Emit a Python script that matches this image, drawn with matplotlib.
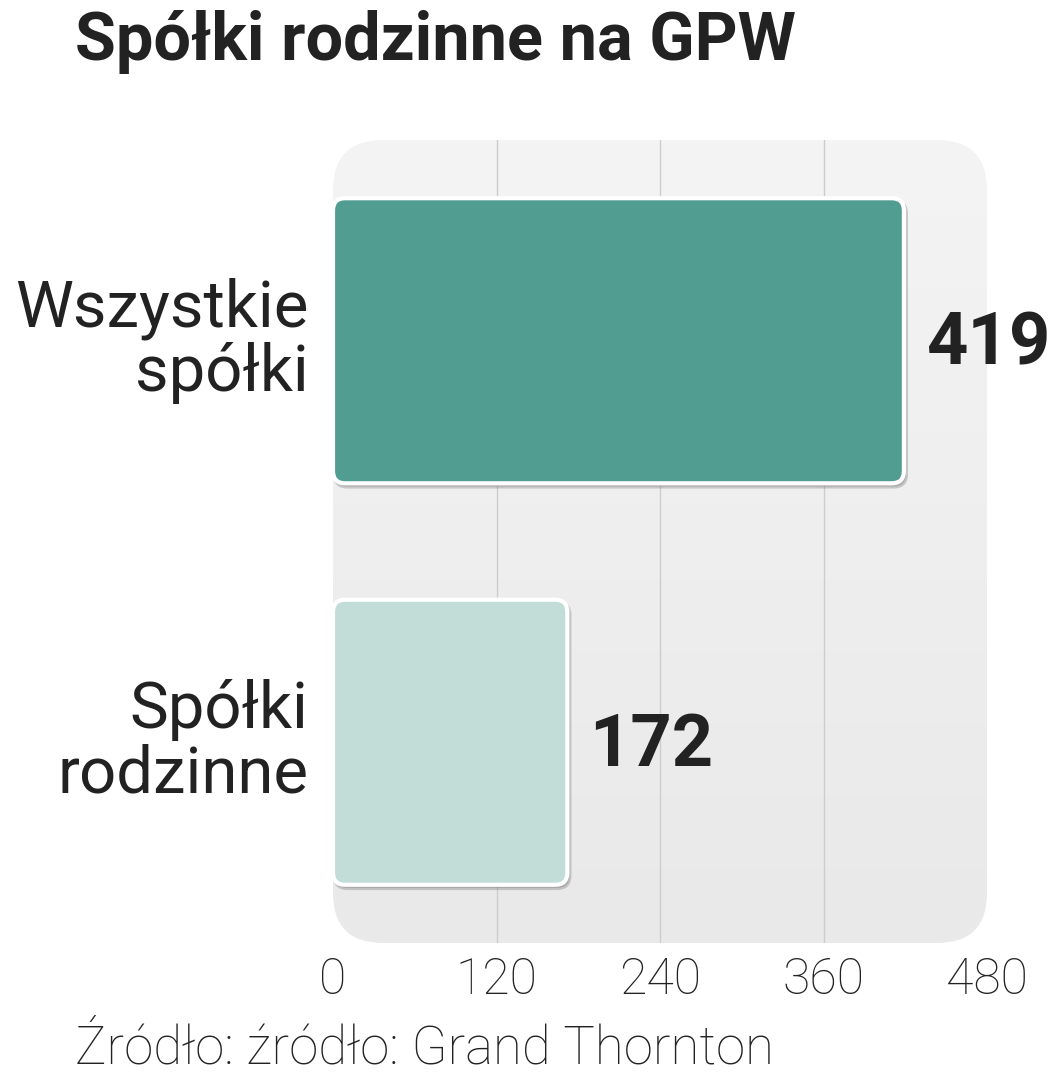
import numpy as np
import matplotlib.pyplot as plt
from matplotlib.patches import FancyBboxPatch
from matplotlib.colors import LinearSegmentedColormap

# dane
categories = ["Wszystkie\nspółki", "Spółki\nrodzinne"]
values = [419, 172]
bar_colors = ["#519d92", "#c2dcd8"]
xticks = [0, 120, 240, 360, 480]

title = "Spółki rodzinne na GPW"
source = "Źródło: źródło: Grand Thornton"

W, H = 1055, 1080
fig = plt.figure(figsize=(W / 100, H / 100), dpi=100)
ax = fig.add_axes([333 / W, 1 - 943 / H, 654 / W, 803 / H])
ax.patch.set_visible(False)
for s in ax.spines.values():
    s.set_visible(False)

# tło z zaokrąglonymi rogami (w calach, żeby łuki były okrągłe)
panel = FancyBboxPatch((3.33, 1.37), 6.54, 8.03,
                       boxstyle="round,pad=0,rounding_size=0.5",
                       transform=fig.dpi_scale_trans,
                       facecolor="none", edgecolor="none", zorder=0)
ax.add_patch(panel)
grad = np.linspace(0, 1, 256).reshape(-1, 1)
cmap = LinearSegmentedColormap.from_list("bg", ["#f4f4f4", "#e9e9ea"])
img = ax.imshow(grad, cmap=cmap, aspect="auto", extent=(0, 480, 1.5, -0.5),
                zorder=0)
img.set_clip_path(panel)

ax.set_xlim(0, 480)
ax.set_ylim(1.5, -0.5)

# linie siatki
for xt in xticks[1:-1]:
    ax.plot([xt, xt], [-0.5, 1.5], color="#cdcdcd", lw=1, zorder=1)

# słupki
ypos = np.arange(len(values))
bars = ax.barh(ypos, values, height=0.71, color=bar_colors)
aspect = (654 / 480) / (803 / 2)
for b, c in zip(bars, bar_colors):
    x, y = b.get_x(), b.get_y()
    w, h = b.get_width(), b.get_height()
    b.set_visible(False)
    sh = FancyBboxPatch((x + 1.5, y + 0.008), w, h,
                        boxstyle="round,pad=0,rounding_size=9",
                        mutation_aspect=aspect, facecolor="#7a7a7a",
                        edgecolor="#7a7a7a", lw=3, alpha=0.35, zorder=2)
    ax.add_patch(sh)
    p = FancyBboxPatch((x, y), w, h,
                       boxstyle="round,pad=0,rounding_size=9",
                       mutation_aspect=aspect, facecolor=c,
                       edgecolor="white", lw=3, zorder=3)
    ax.add_patch(p)

# wartości
for yy, v in zip(ypos, values):
    ax.text(v + 16, yy + 0.01, str(v), ha="left", va="center",
            fontsize=52, fontweight="bold", family="Roboto",
            color="#222222")

# etykiety kategorii
for yy, lab in zip(ypos, categories):
    ax.text(-18, yy, lab, ha="right", va="center", fontsize=47,
            family="Roboto", linespacing=1.05, color="#222222")

ax.set_yticks([])
ax.set_xticks(xticks)
ax.set_xticklabels([str(t) for t in xticks], fontsize=36, family="Roboto",
                   fontweight="light", color="#222222")
ax.tick_params(axis="x", length=0, pad=10)

fig.text(75 / W, 1 - 10 / H, title, ha="left", va="top", fontsize=48,
         fontweight="bold", family="Roboto", color="#222222")
fig.text(75 / W, 1 - 1074 / H, source, ha="left", va="bottom", fontsize=38,
         family="Roboto", fontweight="light", color="#222222")

fig.savefig("out.png", dpi=100)
